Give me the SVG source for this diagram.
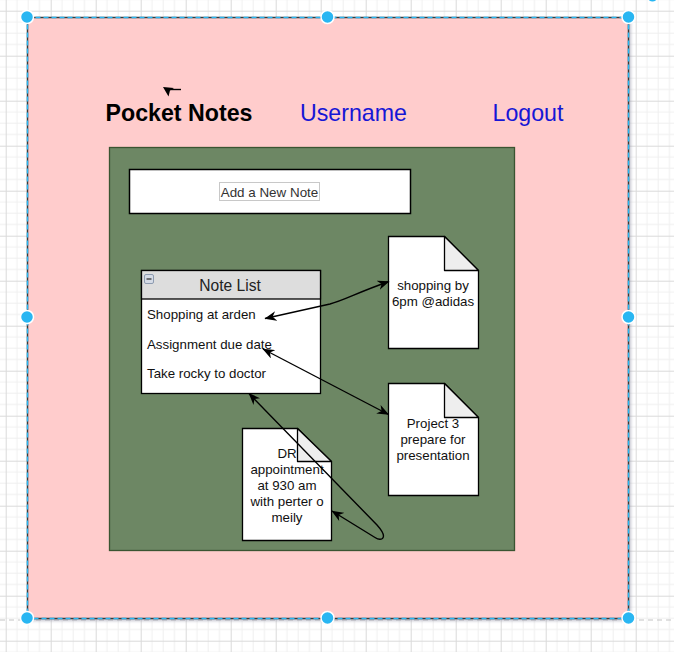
<svg xmlns="http://www.w3.org/2000/svg" width="674" height="652" viewBox="0 0 674 652">
<defs>
<pattern id="grid" x="5.7" y="10.7" width="45" height="45" patternUnits="userSpaceOnUse">
<rect width="45" height="45" fill="#ffffff"/>
<path d="M11.25,0V45M22.5,0V45M33.75,0V45M0,11.25H45M0,22.5H45M0,33.75H45" stroke="#efefef" stroke-width="1" fill="none"/>
<path d="M0.5,0V45M0,0.5H45" stroke="#dadada" stroke-width="1" fill="none"/>
</pattern>
<marker id="arr" viewBox="0 0 10 8" refX="9.5" refY="4" markerWidth="12" markerHeight="9.6" markerUnits="userSpaceOnUse" orient="auto-start-reverse">
<path d="M0,0 L10,4 L0,8 L3,4 Z" fill="#000"/>
</marker>
<filter id="sh" x="-5%" y="-5%" width="110%" height="110%">
<feGaussianBlur stdDeviation="1.5"/>
</filter>
</defs>
<style>
.t{font-family:"Liberation Sans",Arial,sans-serif;}
.doc{fill:#ffffff;stroke:#000;stroke-width:1.3;}
.fold{fill:#eeeeee;stroke:#000;stroke-width:1.3;stroke-linejoin:round;}
.nt{font-family:"Liberation Sans",Arial,sans-serif;font-size:13.3px;fill:#111;text-anchor:middle;}
.li{font-family:"Liberation Sans",Arial,sans-serif;font-size:13.3px;fill:#111;}
.conn{fill:none;stroke:#000;stroke-width:1.4;}
.hd{fill:#29b6f2;stroke:#ffffff;stroke-width:1.5;}
</style>
<rect width="674" height="652" fill="url(#grid)"/>
<line x1="0" y1="620" x2="674" y2="620" stroke="#c4c4c4" stroke-width="1.2" stroke-dasharray="5,4"/>

<g id="page">
<rect x="30" y="20" width="601" height="601" fill="#8a8aa0" opacity="0.5" filter="url(#sh)"/>
<rect x="27.5" y="17.5" width="601" height="601" fill="#ffcccc" stroke="#3a3a3a" stroke-width="1.5"/>
<rect x="27.5" y="17.5" width="601" height="601" fill="none" stroke="#29b6f2" stroke-width="1.5" stroke-dasharray="5,3"/>
</g>

<g id="title">
<text class="t" x="179" y="121" font-size="23.2" font-weight="bold" text-anchor="middle" fill="#000">Pocket Notes</text>
</g>
<g id="username">
<text class="t" x="353.5" y="121" font-size="23.2" text-anchor="middle" fill="#1616d6">Username</text>
</g>
<g id="logout">
<text class="t" x="528" y="121" font-size="23.2" text-anchor="middle" fill="#1616d6">Logout</text>
</g>

<g id="panel">
<rect x="109.5" y="147.5" width="405" height="403" fill="#6d8764" stroke="#3a5431" stroke-width="1.3"/>
</g>

<g id="add-note">
<rect x="129.5" y="169.5" width="281" height="44" fill="#ffffff" stroke="#000" stroke-width="1.5"/>
<rect x="219.5" y="182.5" width="100" height="18" fill="none" stroke="#c8c8c8" stroke-width="1"/>
<text class="t" x="269.5" y="196.5" font-size="13.4" text-anchor="middle" fill="#333">Add a New Note</text>
</g>

<g id="note-list">
<rect x="141.5" y="270.5" width="179" height="123" fill="#ffffff" stroke="#000" stroke-width="1.3"/>
<rect x="141.5" y="270.5" width="179" height="28.5" fill="#dddddd" stroke="#000" stroke-width="1.3"/>
<rect x="144.5" y="274.5" width="9" height="9" rx="1.5" fill="#d5dbe6" stroke="#8d9bb0" stroke-width="1"/>
<line x1="146.5" y1="279" x2="151.5" y2="279" stroke="#333" stroke-width="1.3"/>
<text class="t" x="230" y="290.5" font-size="15.6" text-anchor="middle" fill="#222">Note List</text>
<text class="li" x="147" y="319">Shopping at arden</text>
<text class="li" x="147" y="349">Assignment due date</text>
<text class="li" x="147" y="378">Take rocky to doctor</text>
</g>

<g id="note-shopping">
<path class="doc" d="M388.5,236.5 H444.5 L478.5,270.5 V348.5 H388.5 Z"/>
<path class="fold" d="M444.5,236.5 V270.5 H478.5 Z"/>
<text class="nt" x="433" y="290">shopping by</text>
<text class="nt" x="433" y="306">6pm @adidas</text>
</g>

<g id="note-project">
<path class="doc" d="M388.5,383.5 H444.5 L478.5,417.5 V495.5 H388.5 Z"/>
<path class="fold" d="M444.5,383.5 V417.5 H478.5 Z"/>
<text class="nt" x="433" y="428">Project 3</text>
<text class="nt" x="433" y="444">prepare for</text>
<text class="nt" x="433" y="460">presentation</text>
</g>

<g id="note-dr">
<path class="doc" d="M242.5,428.5 H297.5 L331.5,461.5 V540.5 H242.5 Z"/>
<path class="fold" d="M297.5,428.5 V461.5 H331.5 Z"/>
<text class="nt" x="287" y="458">DR</text>
<text class="nt" x="287" y="474">appointment</text>
<text class="nt" x="287" y="490">at 930 am</text>
<text class="nt" x="287" y="506">with perter o</text>
<text class="nt" x="287" y="522">meily</text>
</g>

<g id="connectors">
<path class="conn" d="M265,318.5 L330,304 C345,300 356,293 389,281.5" marker-start="url(#arr)" marker-end="url(#arr)"/>
<path class="conn" d="M263,349 L388.5,414.5" marker-start="url(#arr)" marker-end="url(#arr)"/>
<path class="conn" d="M249,393.5 L377,525 Q386,535 382.5,538.5 Q379.5,540.5 375,537.5 L332,511" marker-start="url(#arr)" marker-end="url(#arr)"/>
<path d="M181,89.5 H170" stroke="#000" stroke-width="1.4" fill="none"/>
<path d="M163,87 L174,88 L170,90.5 L168.5,96.5 Z" fill="#000"/>
</g>

<g id="handles">
<circle class="hd" cx="27" cy="17" r="6.5"/>
<circle class="hd" cx="327.5" cy="17" r="6.5"/>
<circle class="hd" cx="628.5" cy="17" r="6.5"/>
<circle class="hd" cx="27" cy="317" r="6.5"/>
<circle class="hd" cx="628.5" cy="317" r="6.5"/>
<circle class="hd" cx="27" cy="618" r="6.5"/>
<circle class="hd" cx="327.5" cy="618" r="6.5"/>
<circle class="hd" cx="628.5" cy="618" r="6.5"/>
<circle cx="652.5" cy="-3" r="4.5" fill="#29b6f2"/>
</g>
</svg>
